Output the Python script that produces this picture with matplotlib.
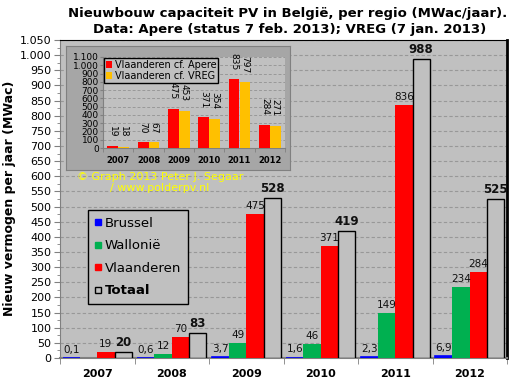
import numpy as np
import matplotlib
matplotlib.use('Agg')
import matplotlib.pyplot as plt
from matplotlib.lines import Line2D
from matplotlib.ticker import FuncFormatter, MultipleLocator

# data (MWac per jaar)
jaren = ['2007', '2008', '2009', '2010', '2011', '2012']
brussel = [0.1, 0.6, 3.7, 1.6, 2.3, 6.9]
wallonie = [np.nan, 12, 49, 46, 149, 234]
vlaanderen = [19, 70, 475, 371, 836, 284]
totaal = [20, 83, 528, 419, 988, 525]

# inset: Vlaanderen volgens twee bronnen
vl_apere = [19, 70, 475, 371, 835, 284]
vl_vreg = [18, 67, 453, 354, 797, 271]

plt.rcParams['font.family'] = 'DejaVu Sans'

def dot_fmt(v, pos):
    return f'{int(v):,}'.replace(',', '.')

W, H = 521, 387
fig = plt.figure(figsize=(W / 100, H / 100), dpi=100)
fig.patch.set_facecolor('white')

ax = fig.add_axes([60 / W, 1 - 358 / H, 447 / W, 318 / H])
ax.set_facecolor('#C0C0C0')
x = np.arange(len(jaren))
bw = 0.232

series = [
    (brussel, '#0000FF', 'Brussel'),
    (wallonie, '#00B050', 'Wallonië'),
    (vlaanderen, '#FF0000', 'Vlaanderen'),
]
for i, (vals, col, naam) in enumerate(series):
    pos = x + (i - 1.5) * bw
    ax.bar(pos, vals, bw, color=col, edgecolor=col if i == 0 else 'none',
           linewidth=1.2 if i == 0 else 0, zorder=3)
    for p, v in zip(pos, vals):
        if np.isnan(v):
            continue
        txt = f'{v:.1f}'.replace('.', ',') if i == 0 else f'{int(v)}'
        ax.text(p, v + 10, txt, ha='center', va='bottom', fontsize=7.5,
                color='#111111', zorder=5)

pos = x + 1.5 * bw
ax.bar(pos, totaal, bw, color='#C0C0C0', edgecolor='black', linewidth=1.0, zorder=3)
for p, v in zip(pos, totaal):
    ax.text(p, v + 10, str(v), ha='center', va='bottom', fontsize=8.5,
            fontweight='bold', color='#111111', zorder=5)

ax.set_xlim(-0.5, len(jaren) - 0.5)
ax.set_ylim(0, 1050)
ax.yaxis.set_major_locator(MultipleLocator(50))
ax.yaxis.set_minor_locator(MultipleLocator(25))
ax.yaxis.set_major_formatter(FuncFormatter(dot_fmt))
ax.grid(axis='y', which='major', color='#989898', linestyle=(0, (3, 2)), linewidth=0.8)
ax.set_axisbelow(True)
ax.tick_params(axis='y', which='major', labelsize=8, length=4, color='#808080', pad=2)
ax.tick_params(axis='y', which='minor', length=2, color='#808080')
ax.set_xticks(x)
ax.set_xticklabels(jaren, fontsize=8, fontweight='bold')
ax.set_xticks(np.arange(-0.5, len(jaren)), minor=True)
ax.tick_params(axis='x', which='major', length=0, pad=8)
ax.tick_params(axis='x', which='minor', length=4, color='#808080')
ax.spines['left'].set_color('#808080')
ax.spines['bottom'].set_color('#808080')
ax.spines['bottom'].set_linewidth(1.5)
ax.spines['top'].set_color('black')
ax.spines['right'].set_color('black')
ax.spines['right'].set_linewidth(2)

handles = [
    Line2D([], [], marker='s', linestyle='none', markersize=5,
           markerfacecolor='#0000FF', markeredgecolor='#0000FF'),
    Line2D([], [], marker='s', linestyle='none', markersize=5,
           markerfacecolor='#00B050', markeredgecolor='#00B050'),
    Line2D([], [], marker='s', linestyle='none', markersize=5,
           markerfacecolor='#FF0000', markeredgecolor='#FF0000'),
    Line2D([], [], marker='s', linestyle='none', markersize=5,
           markerfacecolor='#C0C0C0', markeredgecolor='black'),
]
leg = ax.legend(handles, ['Brussel', 'Wallonië', 'Vlaanderen', 'Totaal'],
                loc='upper left', bbox_to_anchor=(0.063, 0.465), fontsize=9.5,
                frameon=True, fancybox=False, edgecolor='black', facecolor='#C0C0C0',
                framealpha=1, labelspacing=0.72, handlelength=0.5, handletextpad=0.25,
                borderpad=0.5, borderaxespad=0)
leg.get_frame().set_linewidth(1.0)
leg.get_texts()[3].set_fontweight('bold')
leg.set_zorder(6)

ax.text(0.224, 0.553, '© Graph 2013 Peter J. Segaar\n/ www.polderpv.nl',
        transform=ax.transAxes, ha='center', va='center', fontsize=8,
        color='#FFFF00', linespacing=1.1, zorder=6)

fig.text(288 / W, 1 - 14 / H, 'Nieuwbouw capaciteit PV in België, per regio (MWac/jaar).',
         ha='center', va='center', fontsize=9.5, fontweight='bold')
fig.text(290 / W, 1 - 30 / H, 'Data: Apere (status 7 feb. 2013); VREG (7 jan. 2013)',
         ha='center', va='center', fontsize=9.5, fontweight='bold')
fig.text(10 / W, 1 - 198 / H, 'Nieuw vermogen per jaar (MWac)', rotation=90,
         ha='center', va='center', fontsize=9, fontweight='bold')

# inset frame
frame = fig.add_axes([66 / W, 1 - 170 / H, 224 / W, 124 / H])
frame.set_facecolor('#A6A6A6')
frame.set_xticks([])
frame.set_yticks([])
for s in frame.spines.values():
    s.set_color('#808080')
    s.set_linewidth(0.8)
frame.set_zorder(7)

ins = fig.add_axes([103 / W, 1 - 148 / H, 182 / W, 91 / H])
ins.set_zorder(8)
ins.set_facecolor('#C0C0C0')
ibw = 0.36
ins.bar(x - ibw / 2, vl_apere, ibw, color='#FF0000', zorder=3, label='Vlaanderen cf. Apere')
ins.bar(x + ibw / 2, vl_vreg, ibw, color='#FFC000', zorder=3, label='Vlaanderen cf. VREG')
for xi, a, b in zip(x, vl_apere, vl_vreg):
    ins.text(xi - ibw / 2, a + 110, str(a), rotation=270, ha='center', va='bottom',
             fontsize=6.5, zorder=5, clip_on=False)
    ins.text(xi + ibw / 2, b + 110, str(b), rotation=270, ha='center', va='bottom',
             fontsize=6.5, zorder=5, clip_on=False)
ins.set_xlim(-0.5, len(jaren) - 0.5)
ins.set_ylim(0, 1100)
ins.yaxis.set_major_locator(MultipleLocator(100))
ins.yaxis.set_major_formatter(FuncFormatter(dot_fmt))
ins.grid(axis='y', color='#989898', linestyle=(0, (3, 2)), linewidth=0.7)
ins.set_axisbelow(True)
ins.tick_params(axis='y', labelsize=6.5, length=2, color='#808080', pad=1)
ins.set_xticks(x)
ins.set_xticklabels(jaren, fontsize=6, fontweight='bold')
ins.set_xticks(np.arange(-0.5, len(jaren)), minor=True)
ins.tick_params(axis='x', which='major', length=0, pad=6)
ins.tick_params(axis='x', which='minor', length=3, color='#808080')
ins.spines['left'].set_color('#808080')
ins.spines['bottom'].set_color('#808080')
ins.spines['top'].set_visible(False)
ins.spines['right'].set_visible(False)
ileg = ins.legend(loc='upper left', bbox_to_anchor=(0.0, 1.0), fontsize=7,
                  frameon=True, fancybox=False, edgecolor='black', facecolor='#C0C0C0',
                  framealpha=1, handlelength=0.6, handleheight=0.6, handletextpad=0.3,
                  labelspacing=0.1, borderpad=0.2, borderaxespad=0.1)
ileg.get_frame().set_linewidth(1.0)
ileg.set_zorder(9)

fig.savefig('out.png', dpi=100)
